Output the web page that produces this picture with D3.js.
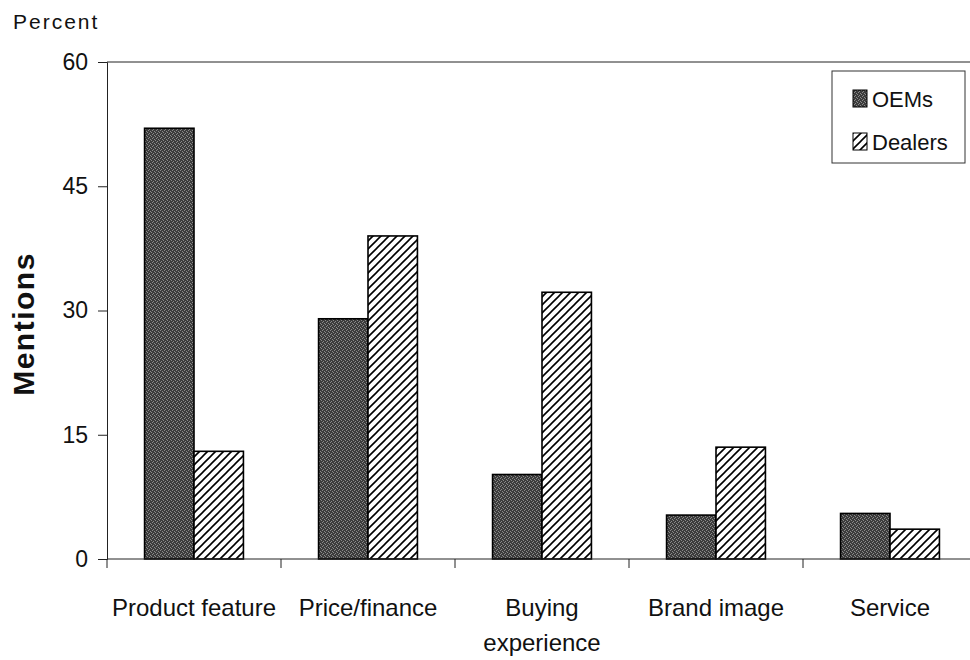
<!DOCTYPE html>
<html lang="en">
<head>
<meta charset="utf-8">
<title>Mentions by category</title>
<script src="https://d3js.org/d3.v7.min.js"></script>
<style>
  body { margin: 0; background: #fff; }
  svg text { font-family: "Liberation Sans", Arial, sans-serif; fill: #111; }
</style>
</head>
<body>
<script>
// data
var categories = ["Product feature", "Price/finance", "Buying experience", "Brand image", "Service"];
var catLines = [["Product feature"], ["Price/finance"], ["Buying", "experience"], ["Brand image"], ["Service"]];
var series = ["OEMs", "Dealers"];
var oems = [52, 29, 10.2, 5.3, 5.5];
var dealers = [13, 39, 32.2, 13.5, 3.6];
var yTicks = [0, 15, 30, 45, 60];

var w = 970, h = 660;
// plot edges (note: "top" is a reserved window prop, so prefix these)
var plotLeft = 107, plotTop = 62, plotBottom = 559, plotRight = 977;

var svg = d3.select("body").append("svg")
    .attr("width", w)
    .attr("height", h);

var defs = svg.append("defs");

// stippled dark grey for OEMs
var stip = defs.append("pattern")
    .attr("id", "stipple")
    .attr("patternUnits", "userSpaceOnUse")
    .attr("width", 4).attr("height", 4);
stip.append("rect").attr("width", 4).attr("height", 4).attr("fill", "#3c3c3c");
[[0, 0], [2, 1], [1, 2], [3, 3]].forEach(function(p) {
    stip.append("rect").attr("x", p[0]).attr("y", p[1])
        .attr("width", 1).attr("height", 1).attr("fill", "#8a8a8a");
});

// hatch for dealers
var pat = defs.append("pattern")
    .attr("id", "hatch")
    .attr("patternUnits", "userSpaceOnUse")
    .attr("width", 8).attr("height", 8);
pat.append("rect").attr("width", 8).attr("height", 8).attr("fill", "#fff");
pat.append("path")
    .attr("d", "M0,8 L8,0 M-2,2 L2,-2 M6,10 L10,6")
    .attr("stroke", "#000")
    .attr("stroke-width", 1.6);

var x = d3.scaleBand().domain(categories).range([plotLeft, plotRight]).padding(0);
var x1 = d3.scaleBand().domain(series).range([0, x.bandwidth()]).paddingInner(0).paddingOuter(0.76);
var y = d3.scaleLinear().domain([0, 60]).range([plotBottom, plotTop]);

var fills = { "OEMs": "url(#stipple)", "Dealers": "url(#hatch)" };

// bars
var rows = categories.map(function(c, i) {
    return { cat: c, vals: [ { s: "OEMs", v: oems[i] }, { s: "Dealers", v: dealers[i] } ] };
});

var groups = svg.selectAll("g.cat")
    .data(rows)
    .enter().append("g")
    .attr("class", "cat")
    .attr("transform", function(d) { return "translate(" + x(d.cat) + ",0)"; });

groups.selectAll("rect")
    .data(function(d) { return d.vals; })
    .enter().append("rect")
    .attr("x", function(d) { return x1(d.s); })
    .attr("y", function(d) { return y(d.v); })
    .attr("width", x1.bandwidth())
    .attr("height", function(d) { return y(0) - y(d.v); })
    .attr("fill", function(d) { return fills[d.s]; })
    .attr("stroke", "#000")
    .attr("stroke-width", 1.6);

// top frame line
svg.append("line")
    .attr("x1", plotLeft).attr("x2", w)
    .attr("y1", plotTop).attr("y2", plotTop)
    .attr("stroke", "#222").attr("stroke-width", 1);

// y axis
var yAxis = d3.axisLeft(y).tickValues(yTicks).tickSize(9).tickPadding(10);
var gy = svg.append("g")
    .attr("transform", "translate(" + plotLeft + ",0)")
    .call(yAxis);
gy.select(".domain").attr("stroke", "#222");
gy.selectAll(".tick line").attr("stroke", "#222");
gy.selectAll(".tick text")
    .style("font-size", "23px")
    .attr("fill", "#111");

// x axis line + ticks between categories
svg.append("line")
    .attr("x1", plotLeft).attr("x2", w)
    .attr("y1", y(0)).attr("y2", y(0))
    .attr("stroke", "#222");
svg.selectAll("line.xtick")
    .data(categories)
    .enter().append("line")
    .attr("class", "xtick")
    .attr("x1", function(d) { return x(d); })
    .attr("x2", function(d) { return x(d); })
    .attr("y1", y(0)).attr("y2", y(0) + 9)
    .attr("stroke", "#222");

// category labels
var lab = svg.selectAll("text.cat")
    .data(categories)
    .enter().append("text")
    .attr("class", "cat")
    .attr("text-anchor", "middle")
    .attr("x", function(d) { return x(d) + x.bandwidth() / 2; })
    .attr("y", 616)
    .style("font-size", "24px");
lab.selectAll("tspan")
    .data(function(d, i) { return catLines[i]; })
    .enter().append("tspan")
    .attr("x", function() { return this.parentNode.getAttribute("x"); })
    .attr("dy", function(d, i) { return i === 0 ? 0 : 35; })
    .text(function(d) { return d; });

// titles
svg.append("text")
    .attr("x", 13).attr("y", 29)
    .style("font-size", "21px")
    .style("letter-spacing", "2px")
    .text("Percent");

svg.append("text")
    .attr("transform", "translate(34,324) rotate(-90)")
    .attr("text-anchor", "middle")
    .style("font-size", "30px")
    .style("font-weight", "bold")
    .style("letter-spacing", "1.5px")
    .text("Mentions");

// legend
var lg = svg.append("g").attr("transform", "translate(832,71)");
lg.append("rect")
    .attr("width", 133).attr("height", 92)
    .attr("fill", "#fff")
    .attr("stroke", "#333");
var items = lg.selectAll("g.item")
    .data(series)
    .enter().append("g")
    .attr("class", "item")
    .attr("transform", function(d, i) { return "translate(21," + (19 + i * 43) + ")"; });
items.append("rect")
    .attr("width", 14).attr("height", 17)
    .attr("fill", function(d) { return fills[d]; })
    .attr("stroke", "#000");
items.append("text")
    .attr("x", 19).attr("y", 17)
    .style("font-size", "22px")
    .text(function(d) { return d; });
</script>
</body>
</html>
